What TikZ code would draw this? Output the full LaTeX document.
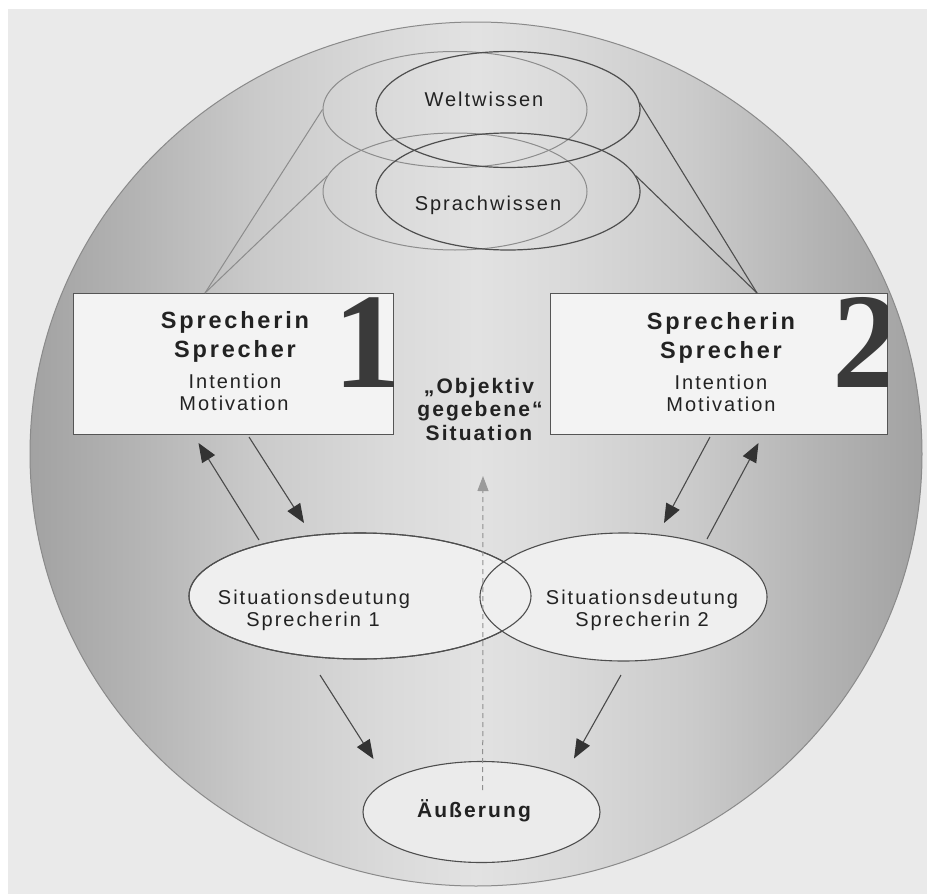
\documentclass[tikz,border=0pt]{standalone}
\usepackage{fontspec}
\setmainfont{Liberation Sans}
\newfontfamily\regsp{Liberation Sans}[LetterSpace=10]
\newfontfamily\boldsp{Liberation Sans}[LetterSpace=12]
\newfontfamily\numserif{Liberation Serif}
\usetikzlibrary{arrows.meta,shapes.geometric}
\definecolor{pagebg}{HTML}{EAEAEA}
\definecolor{txt}{HTML}{222222}
\definecolor{boxfill}{HTML}{F3F3F3}
\definecolor{boxline}{HTML}{555555}
\definecolor{ellfill}{HTML}{EFEFEF}
\definecolor{aufill}{HTML}{EBEBEB}
\definecolor{linedark}{HTML}{4E4E4E}
\definecolor{linefaint}{HTML}{8C8C8C}
\definecolor{arrowc}{HTML}{4A4A4A}
\definecolor{headc}{HTML}{333333}
\definecolor{dashc}{HTML}{8F8F8F}
\definecolor{dashhead}{HTML}{9A9A9A}
\definecolor{numc}{HTML}{3A3A3A}
\definecolor{circline}{HTML}{8A8A8A}
\definecolor{shA}{HTML}{A2A2A2}
\definecolor{shB}{HTML}{B4B4B4}
\definecolor{shC}{HTML}{CBCBCB}
\definecolor{shD}{HTML}{DADADA}
\definecolor{shE}{HTML}{E2E2E2}
\pgfdeclarehorizontalshading{cyl}{100bp}{color(0bp)=(shA); color(25bp)=(shA); color(31bp)=(shB); color(38bp)=(shC); color(45bp)=(shD); color(50bp)=(shE); color(55bp)=(shD); color(62bp)=(shC); color(69bp)=(shB); color(75bp)=(shA); color(100bp)=(shA)}
\begin{document}
\begin{tikzpicture}[x=1pt,y=-1pt,
 lbl/.style={text=txt,inner sep=0pt,anchor=base,font=\regsp\fontsize{20}{20}\selectfont},
 blbl/.style={text=txt,inner sep=0pt,anchor=base,font=\boldsp\bfseries\fontsize{23.5}{23.5}\selectfont},
 olbl/.style={text=txt,inner sep=0pt,anchor=base,font=\regsp\bfseries\fontsize{21}{21}\selectfont},
 spbox/.style={draw=boxline,line width=1pt,fill=boxfill,rectangle,inner sep=0pt},
 knowfaint/.style={ellipse,draw=linefaint,line width=1pt,inner sep=0pt},
 knowbold/.style={ellipse,draw=linedark,line width=1.2pt,inner sep=0pt},
 sitell/.style={ellipse,draw=linedark,line width=1.1pt,fill=ellfill,inner sep=0pt},
 funf/.style={draw=linefaint,line width=1pt},
 funb/.style={draw=linedark,line width=1.1pt},
 arr/.style={draw=arrowc,line width=1.1pt,-{Triangle[length=19pt,width=15pt,color=headc]}},
 darr/.style={draw=dashc,line width=1pt,dash pattern=on 5pt off 4pt,-{Triangle[length=15pt,width=11pt,color=dashhead]}},
 numst/.style={inner sep=0pt,text=numc,font=\numserif\bfseries\fontsize{136}{136}\selectfont}
]
\useasboundingbox (0,0) rectangle (927,894);
\fill[white] (0,0) rectangle (927,894);
\fill[pagebg] (8,9) rectangle (927,894);
\shade[shading=cyl] (476,454) ellipse [x radius=446, y radius=432];
\draw[draw=circline,line width=1pt] (476,454) ellipse [x radius=446, y radius=432];

% knowledge ellipses
\node[knowfaint,minimum width=264pt,minimum height=116pt] (wwf) at (455,109.5) {};
\node[knowfaint,minimum width=264pt,minimum height=117pt] (swf) at (455,191.5) {};
\node[knowbold,minimum width=264pt,minimum height=116pt] (wwb) at (508,109.5) {};
\node[knowbold,minimum width=264pt,minimum height=117pt] (swb) at (508,191.5) {};
\node[lbl] (ww) at (484,106) {Weltwissen};
\node[lbl] (sw) at (488,210) {Sprachwissen};

% speaker boxes
\node[spbox,minimum width=320pt,minimum height=141pt] (b1) at (233,363.5) {};
\node[spbox,minimum width=337pt,minimum height=141pt] (b2) at (718.5,363.5) {};
\coordinate (b1apex) at (205,293);
\coordinate (b2apex) at (757,293);
\draw[funf] (b1apex) -- (wwf.west);
\draw[funf] (b1apex) -- (swf.173);
\draw[funb] (b2apex) -- (wwb.3);
\draw[funb] (b2apex) -- (swb.7);

\begin{scope}
\clip (b1.south west) rectangle (b1.north east);
\node[numst,anchor=base east] (n1) at (402,387) {1};
\end{scope}
\begin{scope}
\clip (b2.south west) rectangle (b2.north east);
\node[numst,anchor=base west] (n2) at (832,387) {2};
\end{scope}

\node[blbl] (s1a) at (235,328.5) {Sprecherin};
\node[blbl] (s1b) at (235,357) {Sprecher};
\node[lbl] (s1c) at (235,388) {Intention};
\node[lbl] (s1d) at (234,410.5) {Motivation};
\node[blbl] (s2a) at (721,329.5) {Sprecherin};
\node[blbl] (s2b) at (721,358) {Sprecher};
\node[lbl] (s2c) at (721,389) {Intention};
\node[lbl] (s2d) at (721,411.5) {Motivation};

% objective situation
\node[olbl] (o1) at (479,393) {„Objektiv};
\node[olbl] (o2) at (480,416.5) {gegebene“};
\node[olbl] (o3) at (479,440) {Situation};

% situation interpretations
\node[sitell,minimum width=342pt,minimum height=126pt] (sd1) at (360,596) {};
\node[sitell,minimum width=287pt,minimum height=128pt] (sd2) at (623.5,597) {};
\draw[draw=linedark,line width=1.1pt] (sd1.center) ellipse [x radius=171, y radius=63];
\node[lbl] (t1a) at (314,604) {Situationsdeutung};
\node[lbl] (t1b) at (313,626.5) {Sprecherin 1};
\node[lbl] (t2a) at (642,604) {Situationsdeutung};
\node[lbl] (t2b) at (642,626.5) {Sprecherin 2};

% utterance
\node[sitell,fill=aufill,minimum width=237pt,minimum height=101pt] (au) at (481.5,812) {};
\node[olbl] (aut) at (474,817) {Äußerung};

% arrows
\coordinate (p1) at (249,437); \coordinate (q1) at (304,523);
\coordinate (p2) at (259,540); \coordinate (q2) at (198.5,443);
\coordinate (p3) at (710,437); \coordinate (q3) at (664,523);
\coordinate (p4) at (707,539); \coordinate (q4) at (758.5,443);
\coordinate (p5) at (320,675); \coordinate (q5) at (373.5,759);
\coordinate (p6) at (621,675); \coordinate (q6) at (574,758.5);
\draw[arr] (p1) -- (q1);
\draw[arr] (p2) -- (q2);
\draw[arr] (p3) -- (q3);
\draw[arr] (p4) -- (q4);
\draw[arr] (p5) -- (q5);
\draw[arr] (p6) -- (q6);
\coordinate (d0) at (482.7,790);
\coordinate (d1) at (483,476);
\draw[darr] (d0) -- (d1);
\end{tikzpicture}
\end{document}
